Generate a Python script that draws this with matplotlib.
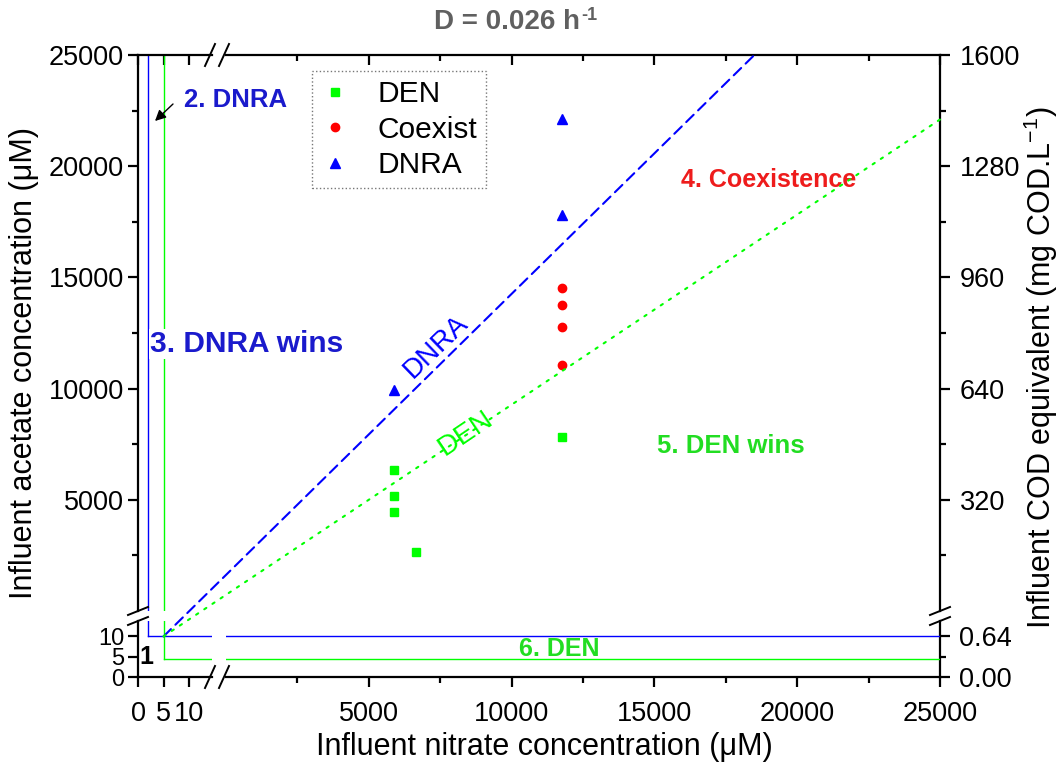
"""Competition outcome map DEN vs DNRA at D = 0.026 h-1 (broken axes)."""

import matplotlib
matplotlib.use("Agg")
import matplotlib.pyplot as plt
from matplotlib.lines import Line2D
from matplotlib.patches import ConnectionPatch
from matplotlib.ticker import FixedLocator, FormatStrFormatter

plt.rcParams["font.family"] = ["Liberation Sans", "DejaVu Sans"]
plt.rcParams["mathtext.fontset"] = "custom"
plt.rcParams["mathtext.rm"] = "Liberation Sans"
plt.rcParams["mathtext.bf"] = "Liberation Sans:bold"

# ---- data -------------------------------------------------------------
den_x = [5880, 5880, 5880, 6650, 11760]
den_y = [6350, 5190, 4430, 2670, 7840]
coex_x = [11760, 11760, 11760, 11760]
coex_y = [14540, 13740, 12780, 11040]
dnra_x = [5880, 11760, 11760]
dnra_y = [9950, 17790, 22120]

# threshold corners (x, y) in the small-value segments
dnra_corner = (2.0, 10.0)
den_corner = (5.0, 4.5)

# boundary lines: start in the low segment, end in the high segment
dnra_line = [(5.0, 10.0), (18500, 25000)]
den_line = [(5.0, 10.0), (25000, 22100)]

COD_PER_UM = 0.064  # mg COD/L per uM acetate

x_low_lim = (0, 14.5)
x_high_lim = (0, 25000)
y_low_lim = (0, 13.8)
y_high_lim = (0, 25000)

low_ticks = [0, 5, 10]
high_ticks = [5000, 10000, 15000, 20000, 25000]
high_minor = [2500, 7500, 12500, 17500, 22500]
cod_ticks = [320, 640, 960, 1280, 1600]
cod_minor = [160, 480, 800, 1120, 1440]
cod_low_ticks = [0.0, 0.64]
cod_low_minor = [0.32]

BLUE = "#0000ff"
GREEN = "#00ff00"
RED = "#ff0000"
BLUE_TXT = "#1a1acc"
GREEN_TXT = "#22dd22"
RED_TXT = "#ee1c1c"

# ---- layout (pixels) ---------------------------------------------------
W, H = 1062, 772
L, XB1, XB2, R = 138, 212, 226, 940
T, YB1, YB2, B = 55, 611, 621, 677


def fr(x0, y0, x1, y1):
    return [x0 / W, 1 - y1 / H, (x1 - x0) / W, (y1 - y0) / H]


def fx(x):
    return x / W


def fy(y):
    return 1 - y / H


fig = plt.figure(figsize=(W / 100, H / 100), dpi=100)
ax_ul = fig.add_axes(fr(L, T, XB1, YB1))
ax_ur = fig.add_axes(fr(XB2, T, R, YB1))
ax_ll = fig.add_axes(fr(L, YB2, XB1, B))
ax_lr = fig.add_axes(fr(XB2, YB2, R, B))

for ax in (ax_ul, ax_ll):
    ax.set_xlim(*x_low_lim)
for ax in (ax_ur, ax_lr):
    ax.set_xlim(*x_high_lim)
for ax in (ax_ul, ax_ur):
    ax.set_ylim(*y_high_lim)
for ax in (ax_ll, ax_lr):
    ax.set_ylim(*y_low_lim)

SP_LW = 1.6
TICK_FS = 19.5
for ax in (ax_ul, ax_ur, ax_ll, ax_lr):
    ax.set_facecolor("none")
    for s in ax.spines.values():
        s.set_linewidth(SP_LW)
    ax.tick_params(which="major", length=7, width=SP_LW, labelsize=TICK_FS)
    ax.tick_params(which="minor", length=4, width=SP_LW)

ax_ul.spines[["right", "bottom"]].set_visible(False)
ax_ur.spines[["left", "bottom", "right"]].set_visible(False)
ax_ll.spines[["right", "top"]].set_visible(False)
ax_lr.spines[["left", "top", "right"]].set_visible(False)

# x ticks
ax_ll.xaxis.set_major_locator(FixedLocator(low_ticks))
ax_ul.xaxis.set_major_locator(FixedLocator(low_ticks))
ax_lr.xaxis.set_major_locator(FixedLocator(high_ticks))
ax_ur.xaxis.set_major_locator(FixedLocator(high_ticks))
ax_lr.xaxis.set_minor_locator(FixedLocator(high_minor))
ax_ur.xaxis.set_minor_locator(FixedLocator(high_minor))
for ax in (ax_ul, ax_ur):
    ax.tick_params(axis="x", which="both", bottom=False, top=True,
                   labelbottom=False, direction="in")
for ax in (ax_ll, ax_lr):
    ax.tick_params(axis="x", which="both", direction="out", pad=10)

# y ticks
ax_ll.yaxis.set_major_locator(FixedLocator(low_ticks))
ax_ul.yaxis.set_major_locator(FixedLocator(high_ticks))
ax_ul.yaxis.set_minor_locator(FixedLocator(high_minor))
for ax in (ax_ur, ax_lr):
    ax.tick_params(axis="y", which="both", left=False, labelleft=False)
ax_ll.tick_params(axis="y", pad=3, labelsize=17)
ax_ul.tick_params(axis="y", pad=3)

# right COD axis
to_cod = (lambda y: y * COD_PER_UM, lambda c: c / COD_PER_UM)
sec_u = ax_ur.secondary_yaxis("right", functions=to_cod)
sec_u.set_yticks(cod_ticks)
sec_u.yaxis.set_minor_locator(FixedLocator(cod_minor))
sec_l = ax_lr.secondary_yaxis("right", functions=to_cod)
sec_l.set_yticks(cod_low_ticks)
sec_l.yaxis.set_minor_locator(FixedLocator(cod_low_minor))
sec_l.yaxis.set_major_formatter(FormatStrFormatter("%.2f"))
for sec in (sec_u, sec_l):
    sec.spines["right"].set_linewidth(SP_LW)
    sec.tick_params(which="major", length=7, width=SP_LW, labelsize=TICK_FS, pad=7)
    sec.tick_params(which="minor", length=4, width=SP_LW)

# ---- threshold lines ---------------------------------------------------
ax_ll.plot([dnra_corner[0]] * 2, [dnra_corner[1], y_low_lim[1]], color=BLUE, lw=1)
ax_ll.plot([dnra_corner[0], x_low_lim[1]], [dnra_corner[1]] * 2, color=BLUE, lw=1)
ax_ul.axvline(dnra_corner[0], color=BLUE, lw=1)
ax_lr.axhline(dnra_corner[1], color=BLUE, lw=1)

ax_ll.plot([den_corner[0]] * 2, [den_corner[1], y_low_lim[1]], color=GREEN, lw=1)
ax_ll.plot([den_corner[0], x_low_lim[1]], [den_corner[1]] * 2, color=GREEN, lw=1)
ax_ul.axvline(den_corner[0], color=GREEN, lw=1)
ax_lr.axhline(den_corner[1], color=GREEN, lw=1)

# diagonal boundaries spanning the break
for pts, col, ls in ((dnra_line, BLUE, (0, (5, 3))), (den_line, GREEN, (0, (1.2, 3.5)))):
    con = ConnectionPatch(xyA=pts[0], coordsA=ax_ll.transData,
                          xyB=pts[1], coordsB=ax_ur.transData,
                          color=col, lw=1.5, linestyle=ls)
    fig.add_artist(con)

# ---- points ------------------------------------------------------------
h_den, = ax_ur.plot(den_x, den_y, "s", color=GREEN, ms=5.5, ls="none", label="DEN")
h_co, = ax_ur.plot(coex_x, coex_y, "o", color=RED, ms=6, ls="none", label="Coexist")
h_dn, = ax_ur.plot(dnra_x, dnra_y, "^", color=BLUE, ms=6.5, ls="none", label="DNRA")

leg = ax_ur.legend(handles=[h_den, h_co, h_dn], loc="upper left",
                   bbox_to_anchor=(fx(312), fy(71)), bbox_transform=fig.transFigure,
                   fontsize=21.5, frameon=True, fancybox=False, borderaxespad=0,
                   borderpad=0.3, handlelength=0.95, handletextpad=0.95,
                   labelspacing=0.26, numpoints=1)
leg.get_frame().set_edgecolor("#555555")
leg.get_frame().set_linestyle(":")
leg.get_frame().set_linewidth(1.0)
leg.set_zorder(10)

# ---- labels ------------------------------------------------------------
box = dict(facecolor="white", edgecolor="none", pad=1.5)
ax_ur.text(7340, 11900, "DNRA", color=BLUE, fontsize=20, rotation=44,
           rotation_mode="anchor", ha="center", va="center", bbox=box)
ax_ur.text(8390, 8000, "DEN", color=GREEN, fontsize=20.5, rotation=34,
           rotation_mode="anchor", ha="center", va="center", bbox=box)
ax_ur.text(18990, 19380, "4. Coexistence", color=RED_TXT, fontsize=18,
           fontweight="bold", ha="center", va="center")
ax_ur.text(17690, 7420, "5. DEN wins", color=GREEN_TXT, fontsize=18.5,
           fontweight="bold", ha="center", va="center")
ax_lr.text(11680, 7.0, "6. DEN", color=GREEN_TXT, fontsize=18,
           fontweight="bold", ha="center", va="center")
ax_ll.text(1.6, 5.0, "1", color="black", fontsize=18, fontweight="bold",
           ha="center", va="center")
fig.text(fx(150), fy(344), "3. DNRA wins", color=BLUE_TXT, fontsize=21.5,
         fontweight="bold", ha="left", va="center",
         bbox=dict(facecolor="white", edgecolor="none", pad=0.5))
fig.text(fx(184), fy(100), "2. DNRA", color=BLUE_TXT, fontsize=18.5,
         fontweight="bold", ha="left", va="center")
ax_ul.annotate("", xy=(fx(155), fy(121)), xytext=(fx(173), fy(104)),
               xycoords="figure fraction", textcoords="figure fraction",
               arrowprops=dict(arrowstyle="-|>", color="black", lw=1,
                               mutation_scale=16, shrinkA=0, shrinkB=0),
               annotation_clip=False)

fig.text(fx(507), fy(22), "D = 0.026 h", color="#606060",
         fontsize=20, fontweight="bold", ha="center", va="center")
fig.text(fx(581), fy(15), "-1", color="#606060",
         fontsize=13, fontweight="bold", ha="left", va="center")
fig.text(fx(544), fy(747), "Influent nitrate concentration (μM)", fontsize=22,
         ha="center", va="center")
fig.text(fx(24), fy(363), "Influent acetate concentration (μM)", fontsize=22,
         ha="center", va="center", rotation=90)
fig.text(fx(1041), fy(368), r"Influent COD equivalent (mg COD.L$^{-1}$)",
         fontsize=22, ha="center", va="center", rotation=90)

# ---- break marks -------------------------------------------------------
def slash(x, y, dx, dy):
    fig.add_artist(Line2D([fx(x - dx), fx(x + dx)], [fy(y + dy), fy(y - dy)],
                          color="black", lw=1.4))


for xs in (XB1 - 2, XB2 - 2):
    slash(xs, B, 5, 11)
    slash(xs, T, 5, 11)
for ys in (YB1, YB2):
    slash(L, ys, 10, 4)
    slash(R, ys, 10, 4)

fig.savefig("out.png", dpi=100)
